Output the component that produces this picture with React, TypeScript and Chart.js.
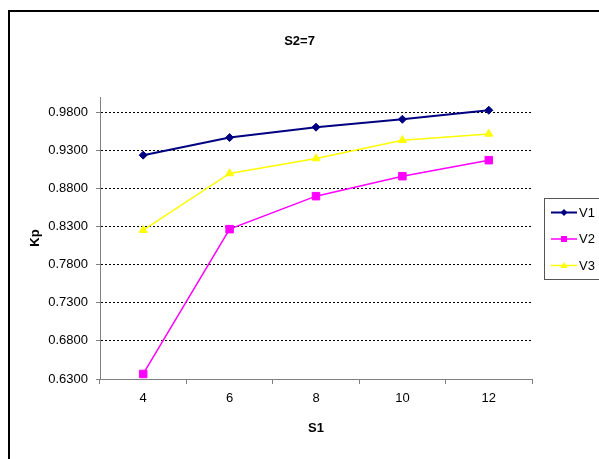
import React, { useEffect, useRef } from "react";
import { Chart, registerables } from "chart.js";

Chart.register(...registerables);

const categories = ["4", "6", "8", "10", "12"];
const seriesNames = ["V1", "V2", "V3"];
const v1Values = [0.9237, 0.9468, 0.9604, 0.9708, 0.9826];
const v2Values = [0.6366, 0.8266, 0.8699, 0.8961, 0.9171];
const v3Values = [0.8253, 0.8997, 0.9193, 0.9433, 0.9516];
const yTickValues = [0.63, 0.68, 0.73, 0.78, 0.83, 0.88, 0.93, 0.98];
const chartTitle = "S2=7";
const xTitle = "S1";
const yTitle = "Kp";

const FONT = "'Liberation Sans', Arial, sans-serif";

function drawMarker(ctx: CanvasRenderingContext2D, style: string, x: number, y: number, r: number) {
  ctx.beginPath();
  if (style === "rectRot") {
    ctx.moveTo(x, y - r);
    ctx.lineTo(x + r, y);
    ctx.lineTo(x, y + r);
    ctx.lineTo(x - r, y);
    ctx.closePath();
  } else if (style === "rect") {
    ctx.rect(x - r, y - r, 2 * r, 2 * r);
  } else {
    ctx.moveTo(x, y - r);
    ctx.lineTo(x + r, y + r * 0.7);
    ctx.lineTo(x - r, y + r * 0.7);
    ctx.closePath();
  }
  ctx.fill();
}

const frameAndLegend = {
  id: "frameAndLegend",
  beforeDraw(chart: any) {
    const ctx = chart.ctx as CanvasRenderingContext2D;
    ctx.save();
    ctx.fillStyle = "#ffffff";
    ctx.fillRect(0, 0, chart.width, chart.height);
    ctx.strokeStyle = "#000000";
    ctx.lineWidth = 2;
    ctx.strokeRect(9, 11, chart.width + 20, chart.height + 20);
    ctx.restore();
  },
  afterDraw(chart: any) {
    const ctx = chart.ctx as CanvasRenderingContext2D;
    const bx = 544.5;
    const by = 198.5;
    ctx.save();
    ctx.strokeStyle = "#555555";
    ctx.lineWidth = 1;
    ctx.strokeRect(bx, by, 70, 81);
    chart.data.datasets.forEach((ds: any, i: number) => {
      const y = 212.5 + i * 26.5;
      ctx.strokeStyle = ds.borderColor;
      ctx.lineWidth = ds.borderWidth;
      ctx.beginPath();
      ctx.moveTo(551, y);
      ctx.lineTo(577, y);
      ctx.stroke();
      ctx.fillStyle = ds.backgroundColor;
      const r = ds.pointStyle === "rect" ? 3 : 3.5;
      drawMarker(ctx, ds.pointStyle, 564, y, r);
      ctx.fillStyle = "#000000";
      ctx.font = `13px ${FONT}`;
      ctx.textBaseline = "middle";
      ctx.textAlign = "left";
      ctx.fillText(ds.label, 579, y + 0.5);
    });
    ctx.restore();
  },
};

export default function App() {
  const canvasRef = useRef<HTMLCanvasElement | null>(null);

  useEffect(() => {
    if (!canvasRef.current) return;
    const chart = new Chart(canvasRef.current, {
      type: "line",
      data: {
        labels: categories,
        datasets: [
          {
            label: seriesNames[0],
            data: v1Values,
            borderColor: "#000080",
            backgroundColor: "#000080",
            borderWidth: 2,
            pointStyle: "rectRot",
            pointRadius: 4,
            pointBorderWidth: 1,
            tension: 0,
          },
          {
            label: seriesNames[1],
            data: v2Values,
            borderColor: "#FF00FF",
            backgroundColor: "#FF00FF",
            borderWidth: 1.5,
            pointStyle: "rect",
            pointRadius: 5.3,
            pointBorderWidth: 1,
            tension: 0,
          },
          {
            label: seriesNames[2],
            data: v3Values,
            borderColor: "#FFFF00",
            backgroundColor: "#FFFF00",
            borderWidth: 1.5,
            pointStyle: "triangle",
            pointRadius: 4.6,
            pointBorderWidth: 1,
            tension: 0,
          },
        ],
      },
      options: {
        animation: false,
        responsive: true,
        maintainAspectRatio: false,
        layout: { padding: { left: 0, right: 0, top: 0, bottom: 0 } },
        plugins: {
          legend: { display: false },
          tooltip: { enabled: false },
          title: {
            display: true,
            text: chartTitle,
            color: "#000000",
            font: { family: FONT, size: 13, weight: "bold" },
            padding: { top: 33.2, bottom: 48.2 },
          },
        },
        scales: {
          x: {
            type: "category",
            offset: true,
            grid: {
              offset: true,
              drawOnChartArea: false,
              drawTicks: true,
              tickLength: 5,
              tickColor: "#808080",
            },
            border: { display: true, color: "#808080", width: 1 },
            ticks: {
              color: "#000000",
              font: { family: FONT, size: 13 },
              padding: 7,
              maxRotation: 0,
            },
            title: {
              display: true,
              text: xTitle,
              color: "#000000",
              font: { family: FONT, size: 13, weight: "bold" },
              padding: { top: 0, bottom: 23.2 },
            },
            afterFit: (s: any) => {
              s.height = 80;
            },
          },
          y: {
            min: 0.63,
            max: 1.0,
            afterBuildTicks: (s: any) => {
              s.ticks = yTickValues.map((v) => ({ value: v }));
            },
            grid: {
              color: (c: any) => (c.index === 0 ? "rgba(0,0,0,0)" : "#000000"),
              lineWidth: 1,
              drawTicks: true,
              tickLength: 4,
              tickColor: "#808080",
            },
            border: { display: true, color: "#808080", width: 1, dash: [2, 2] },
            ticks: {
              color: "#000000",
              font: { family: FONT, size: 13 },
              padding: 8,
              callback: (v: any) => Number(v).toFixed(4),
            },
            title: {
              display: true,
              text: yTitle,
              color: "#000000",
              font: { family: FONT, size: 13, weight: "bold" },
              padding: { top: 27.2, bottom: 0 },
            },
            afterFit: (s: any) => {
              s.width = 100;
            },
          },
          yRight: {
            position: "right",
            display: true,
            grid: { display: false, drawTicks: false },
            border: { display: false },
            ticks: { display: false },
            afterFit: (s: any) => {
              s.width = 67;
            },
          },
        },
      },
      plugins: [frameAndLegend],
    } as any);
    return () => chart.destroy();
  }, []);

  return (
    <div style={{ position: "fixed", left: 0, top: 0, width: 599, height: 459 }}>
      <canvas ref={canvasRef} />
    </div>
  );
}
